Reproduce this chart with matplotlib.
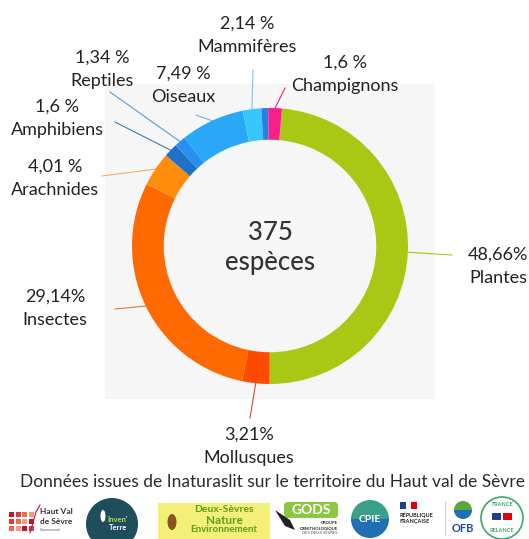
import matplotlib.pyplot as plt
import matplotlib.patches as patches
import numpy as np

plt.rcParams['font.family'] = ['Lato', 'DejaVu Sans']

# share of species per group, clockwise from the top (unlabeled sliver = remainder)
groups = ['Plantes', 'Mollusques', 'Insectes', 'Arachnides', 'Amphibiens',
          'Reptiles', 'Oiseaux', 'Mammifères', '', 'Champignons']
shares = [48.66, 3.21, 29.14, 4.01, 1.6, 1.34, 7.49, 2.14, 0.81, 1.6]
share_labels = ['48,66%', '3,21%', '29,14%', '4,01 %', '1,6 %', '1,34 %',
                '7,49 %', '2,14 %', '', '1,6 %']
total_species = 375
caption = 'Données issues de Inaturaslit sur le territoire du Haut val de Sèvre'

slice_colors = ['#a8c813', '#ff4a00', '#ff6900', '#ff8e0c', '#1f70c8',
                '#2a8df0', '#2aa7f6', '#38c6fc', '#2b7ee6', '#f7208a']
line_colors = ['#a8c813', '#c8502a', '#e0783a', '#f0b060', '#3a7ab8',
               '#5a9ad0', '#6ab8e8', '#6ac8f0', '#2b7ee6', '#e8208a']

# label layout in pixels: (x, y of the percent line) and leader line end
label_pos = [(498, 255), (249, 435), (55, 297), (55, 167), (57, 107),
             (102, 58), (183, 74), (247, 24), None, (345, 63)]
leader_end = [(452, 255), (250, 418), (115, 309), (102, 176), (115, 122),
              (110, 92), (196, 115), (253, 70), None, (285, 88)]

W, H = 529, 539
fig = plt.figure(figsize=(W / 100, H / 100), dpi=100, facecolor='white')

# pixel-space overlay for background, labels and logos
bg = fig.add_axes([0, 0, 1, 1])
bg.set_xlim(0, W)
bg.set_ylim(H, 0)
bg.axis('off')
bg.add_patch(patches.Rectangle((105, 84), 330, 315, color='#f6f6f6', lw=0, zorder=0))

# donut
cx, cy, r = 270, 246, 138
ax = fig.add_axes([(cx - r) / W, 1 - (cy + r) / H, 2 * r / W, 2 * r / H])
wedges, _ = ax.pie(shares, colors=slice_colors, startangle=85, counterclock=False,
                   radius=1, wedgeprops=dict(width=0.23, edgecolor='none'))
ax.set_xlim(-1, 1)
ax.set_ylim(-1, 1)
ax.set_aspect('equal')
ax.axis('off')
ax.patch.set_visible(False)

ax.text(0, 0.10, str(total_species), ha='center', va='center', fontsize=18.5,
        fontweight='medium', color='#333333')
ax.text(0, -0.12, 'espèces', ha='center', va='center', fontsize=18.5,
        fontweight='medium', color='#333333')

to_px = ax.transData + bg.transData.inverted()
for w, name, pct, pos, end, lc in zip(wedges, groups, share_labels, label_pos,
                                     leader_end, line_colors):
    if pos is None:
        continue
    mid = np.radians((w.theta1 + w.theta2) / 2)
    sx, sy = to_px.transform((np.cos(mid), np.sin(mid)))
    bg.plot([sx, end[0]], [sy, end[1]], color=lc, lw=0.8, zorder=1)
    bg.text(pos[0], pos[1], pct, ha='center', va='center', fontsize=13, color='#222222')
    bg.text(pos[0], pos[1] + 23, name, ha='center', va='center', fontsize=13, color='#222222')

bg.text(272, 482, caption, ha='center', va='center', fontsize=12.5,
        fontweight='normal', color='#2a2a2a')

# --- rough partner logos along the bottom ---
# Haut Val de Sevre
reds = ['#c8102e', '#e03a3e', '#f06a50', '#f59a80']
for i in range(4):
    for j in range(3):
        bg.add_patch(patches.Rectangle((9 + i * 6.5, 512 + j * 7), 5, 5,
                                       color=reds[(i + j) % 4], lw=0))
bg.plot([30, 36, 40], [533, 512, 505], color='#c8102e', lw=0.8)
bg.text(40, 512, 'Haut Val', fontsize=6, fontweight='bold', color='#333333', va='center')
bg.text(40, 521, 'de Sèvre', fontsize=6, fontweight='bold', color='#333333', va='center')
bg.text(40, 530, 'Communauté', fontsize=2.5, color='#555555', va='center')

# Inven'Terre
bg.add_patch(patches.Circle((112, 524), 26, color='#1e4d5c', lw=0))
bg.text(118, 520, "Inven'", fontsize=5.5, fontweight='bold', color='#b8d84a', ha='center', va='center')
bg.text(118, 528, 'Terre', fontsize=5.5, fontweight='bold', color='white', ha='center', va='center')
bg.add_patch(patches.Ellipse((103, 516), 5, 12, color='white', lw=0))

# Deux-Sevres Nature Environnement
bg.add_patch(patches.Rectangle((158, 503), 112, 36, color='#f4ef78', lw=0))
bg.add_patch(patches.Ellipse((172, 522), 9, 16, color='#8a5420', lw=0))
bg.text(224, 510, 'Deux-Sèvres', fontsize=7.5, fontweight='bold', color='#5a9e1e', ha='center', va='center')
bg.text(224, 520, 'Nature', fontsize=8.5, fontweight='bold', color='#5a9e1e', ha='center', va='center')
bg.text(224, 530, 'Environnement', fontsize=7, fontweight='bold', color='#5a9e1e', ha='center', va='center')

# GODS
bg.add_patch(patches.FancyBboxPatch((284, 502), 54, 16, boxstyle='round,pad=0,rounding_size=4',
                                    color='#8dc63f', lw=0))
bg.text(311, 510, 'GODS', fontsize=10, fontweight='bold', color='white', ha='center', va='center')
bg.add_patch(patches.Polygon([[275, 510], [290, 520], [295, 530], [285, 526]],
                             color='#222222', lw=0))
bg.text(338, 523, 'GROUPE', fontsize=3, fontweight='bold', color='#222222', ha='right', va='center')
bg.text(338, 528, 'ORNITHOLOGIQUE', fontsize=3, fontweight='bold', color='#222222', ha='right', va='center')
bg.text(338, 533, 'DES DEUX SÈVRES', fontsize=3, color='#555555', ha='right', va='center')

# CPIE
bg.add_patch(patches.Wedge((370, 519), 19, 0, 180, color='#1f6fb4', lw=0))
bg.add_patch(patches.Wedge((370, 519), 19, 180, 360, color='#3aa08a', lw=0))
bg.text(370, 519, 'CPIE', fontsize=7.5, fontweight='bold', color='white', ha='center', va='center')

# Republique Francaise
for k, c in enumerate(['#1d3f8f', 'white', '#e1000f']):
    bg.add_patch(patches.Rectangle((400 + k * 5.5, 502), 5.5, 7, color=c, lw=0))
bg.text(400, 515, 'RÉPUBLIQUE', fontsize=4, fontweight='bold', color='#222222', va='center')
bg.text(400, 521, 'FRANÇAISE', fontsize=4, fontweight='bold', color='#222222', va='center')
bg.plot([445, 445], [502, 535], color='#cccccc', lw=0.8)

# OFB
bg.add_patch(patches.Wedge((463, 510), 9, 0, 180, color='#1f6fb4', lw=0))
bg.add_patch(patches.Wedge((463, 510), 9, 180, 360, color='#5aa83a', lw=0))
bg.text(463, 528, 'OFB', fontsize=8, fontweight='bold', color='#1f4f9a', ha='center', va='center')

# France Relance
bg.add_patch(patches.Circle((502, 518), 21, fill=False, ec='#3aa86a', lw=1.2))
bg.text(502, 505, 'FRANCE', fontsize=4, fontweight='bold', color='#3aa86a', ha='center', va='center')
bg.text(502, 531, 'RELANCE', fontsize=4, fontweight='bold', color='#3aa86a', ha='center', va='center')
bg.add_patch(patches.Rectangle((492, 513), 9, 7, color='#1d3f8f', lw=0))
bg.add_patch(patches.Rectangle((503, 513), 9, 7, color='#e1000f', lw=0))

fig.savefig('out.png', dpi=100, facecolor='white')
